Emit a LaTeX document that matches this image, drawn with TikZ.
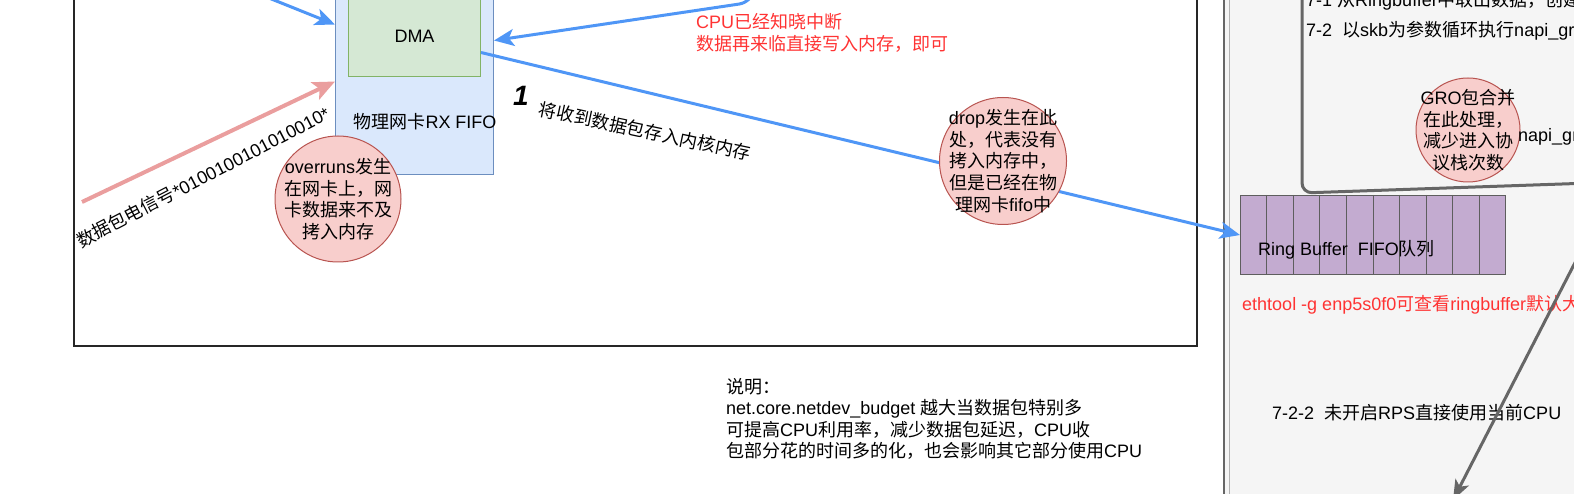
\documentclass[tikz,border=0pt]{standalone}
\usepackage{fontspec}
\setmainfont{Liberation Sans}
\newfontfamily\latfont{Liberation Sans}
\newfontfamily\cjkfont{Noto Sans CJK SC}
\usetikzlibrary{arrows.meta,calc}
% switch to the CJK font for CJK characters
\XeTeXinterchartokenstate=1
\newXeTeXintercharclass\cjkclass
\count255="3000
\loop\ifnum\count255<"A000 \XeTeXcharclass\count255=\cjkclass \advance\count255 by 1 \repeat
\count255="FF00
\loop\ifnum\count255<"FFF0 \XeTeXcharclass\count255=\cjkclass \advance\count255 by 1 \repeat
\XeTeXinterchartoks 0 \cjkclass={\cjkfont}
\XeTeXinterchartoks 4095 \cjkclass={\cjkfont}
\XeTeXinterchartoks \cjkclass 0={\latfont}
\XeTeXinterchartoks \cjkclass 4095={\latfont}
\definecolor{fifofill}{HTML}{DAE8FC}
\definecolor{fifodraw}{HTML}{6C8EBF}
\definecolor{dmafill}{HTML}{D5E8D4}
\definecolor{dmadraw}{HTML}{82B366}
\definecolor{notefill}{HTML}{F8CECC}
\definecolor{notedraw}{HTML}{B85450}
\definecolor{ringfill}{HTML}{C3ABD0}
\definecolor{ringdraw}{HTML}{5E5E5E}
\definecolor{flowblue}{HTML}{4F96F6}
\definecolor{signalpink}{HTML}{EA9E9E}
\definecolor{napigray}{HTML}{666666}
\definecolor{panelfill}{HTML}{F5F5F5}
\definecolor{alertred}{HTML}{FF3333}

\begin{document}
\begin{tikzpicture}[
      x=1pt, y=-1pt,
      font=\fontsize{18pt}{21.6pt}\selectfont,
      every node/.style={inner sep=0pt},
      frame/.style={draw=black!85, line width=1.5pt},
      panel/.style={draw=napigray, fill=panelfill, line width=2pt},
      panelline/.style={draw=black!30, line width=1pt},
      napibox/.style={draw=napigray, line width=3pt},
      fifobox/.style={draw=fifodraw, fill=fifofill, line width=1pt},
      dmabox/.style={draw=dmadraw, fill=dmafill, line width=1pt},
      note/.style={circle, draw=notedraw, fill=notefill, line width=1pt, align=center, inner sep=-12pt},
      ringbox/.style={draw=ringdraw, fill=ringfill, line width=1pt},
      ringcell/.style={draw=ringdraw, line width=1pt},
      redtxt/.style={text=alertred, align=left},
      flow/.style={draw=flowblue, line width=3pt, -{Stealth[length=20pt, width=17pt, inset=5pt]}},
      signal/.style={draw=signalpink, line width=4pt, -{Stealth[length=22pt, width=19pt, inset=5pt]}},
      napiflow/.style={draw=napigray, line width=3pt, -{Stealth[length=20pt, width=15pt, inset=5pt]}}
    ]
    \useasboundingbox (0,0) rectangle (1574,494);
    \clip (0,0) rectangle (1574,494);

    % NIC side
    \node[frame, anchor=south west, minimum width=1123pt, minimum height=420pt] (nic) at (73,346.5) {};
    \node[fifobox, anchor=south west, minimum width=158pt, minimum height=240pt] (fifo) at (335,175) {};
    \node[dmabox, anchor=south west, minimum width=132pt, minimum height=81pt] (dma) at (348,77) {DMA};
    \node (fifolbl) at (425,122) {物理网卡RX FIFO};

    % kernel side
    \node[panel, anchor=north west, minimum width=420pt, minimum height=560pt] (host) at (1223,-30) {};
    \draw[panelline] ([xshift=6.5pt]host.north west) -- ([xshift=6.5pt]host.south west);
    \draw[napibox, rounded corners=10pt] (1302,-30) -- (1302,193) -- (1620,182);
    \node[anchor=base west] (step71) at (1306,7) {7-1 从Ringbuffer中取出数据，创建skb};
    \node[anchor=west] (step72) at (1306,31) {7-2~~以skb为参数循环执行napi\_gro\_receive};
    \node[note, minimum size=104pt] (gro) at (1468,130) {GRO包合并\\在此处理，\\减少进入协\\议栈次数};
    \node[anchor=west] (grorecv) at (1518,137) {napi\_gro\_receive};
    \node[ringbox, anchor=north west, minimum width=265pt, minimum height=79pt] (ring) at (1240,195) {};
    \foreach \i in {1,...,9}
      \draw[ringcell] ($(ring.north west)!\i/10!(ring.north east)$) -- ($(ring.south west)!\i/10!(ring.south east)$);
    \node[anchor=west] (ringlbl) at (1258,250) {Ring Buffer~~FIFO队列};
    \node[redtxt, anchor=west] (ethnote) at (1242,305) {ethtool -g enp5s0f0可查看ringbuffer默认大小};
    \node[anchor=west] (step722) at (1272,413) {7-2-2~~未开启RPS直接使用当前CPU};

    % connectors
    \coordinate (wirein) at (82,202);
    \draw[signal] (wirein) -- ([yshift=-27pt]fifo.west);
    \node[rotate=27.5] (wirelbl) at (203,177) {数据包电信号*0100100101010010*};
    \coordinate (irqin) at (209,-26);
    \draw[flow] (irqin) -- ([yshift=30pt]fifo.west);
    \coordinate (cpuin) at (758,-30);
    \coordinate (cpubend) at (753,2);
    \draw[flow, rounded corners=14pt] (cpuin) -- (cpubend) -- ([yshift=14pt]fifo.east);
    \node[redtxt, anchor=west] (cpunote) at (696,33) {CPU已经知晓中断\\数据再来临直接写入内存，即可};
    \draw[flow] ([yshift=-16.5pt]dma.east) -- (ring.west);
    \node[font=\fontsize{28pt}{28pt}\selectfont\bfseries\itshape] (stepone) at (521,96) {1};
    \node[rotate=-12] (steplbl) at (645,131) {将收到数据包存入内核内存};
    \node[note, minimum size=127pt] (drop) at (1003,161) {drop发生在此\\处，代表没有\\拷入内存中，\\但是已经在物\\理网卡fifo中};
    \node[note, minimum size=126pt] (overrun) at (338,199) {overruns发生\\在网卡上，网\\卡数据来不及\\拷入内存};

    \node[anchor=west, align=left] (budget) at (726,419) {说明：\\net.core.netdev\_budget 越大当数据包特别多\\可提高CPU利用率，减少数据包延迟，CPU收\\包部分花的时间多的化，也会影响其它部分使用CPU};

    \coordinate (rpsfrom) at (1600,214);
    \coordinate (rpsto) at (1453,500);
    \draw[napiflow] (rpsfrom) -- (rpsto);
  \end{tikzpicture}
\end{document}
